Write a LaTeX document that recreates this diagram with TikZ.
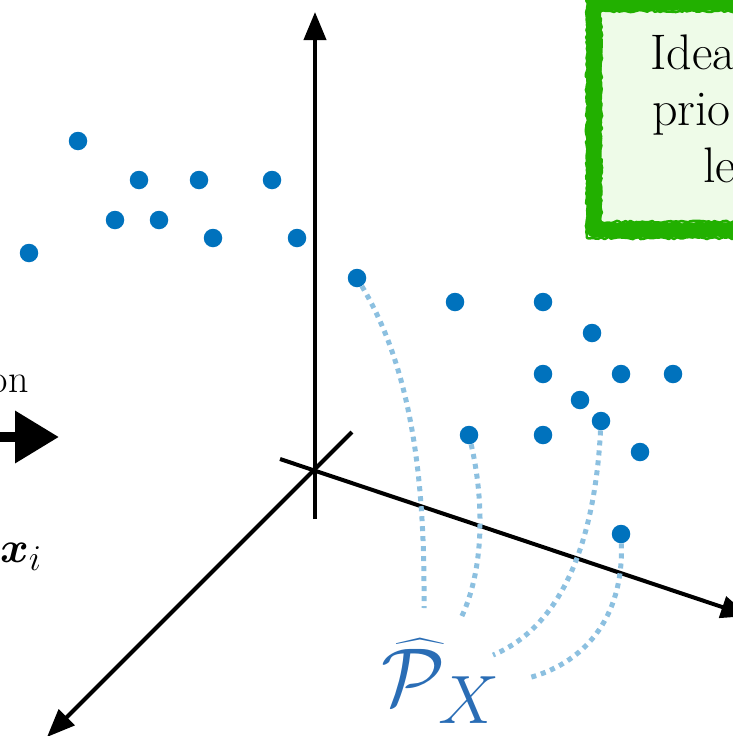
\documentclass[tikz,border=0pt]{standalone}
\usetikzlibrary{arrows.meta,decorations.pathmorphing}
\usepackage{graphicx,bm}
\definecolor{dotblue}{HTML}{0072BD}
\definecolor{lightdot}{HTML}{8CC0E0}
\definecolor{pblue}{HTML}{2A6DB5}
\definecolor{boxgreen}{HTML}{22B000}
\definecolor{boxfill}{HTML}{EEFBE8}
\begin{document}
\begin{tikzpicture}[x=1pt,y=-1pt,
  dot/.style={circle,fill=dotblue,inner sep=0pt,minimum size=18.5pt},
  axis/.style={line width=4pt,-{Triangle[length=28pt,width=22pt]}},
  link/.style={lightdot,line width=5pt,dash pattern=on 5pt off 5pt},
  boxtext/.style={font=\fontsize{50}{56}\selectfont,inner sep=0pt,anchor=base west},
  sidetext/.style={font=\fontsize{40}{48}\selectfont,inner sep=0pt},
  rough/.style={boxgreen,line join=round,decorate,decoration={random steps,segment length=3pt,amplitude=1.2pt}}]
\useasboundingbox (0,0) rectangle (733,736);
% green box
\fill[boxfill] (594,-20) rectangle (760,230);
\draw[rough,line width=15pt] (760,3) -- (594,3) -- (594,230) -- (760,230);
\draw[rough,line width=2.5pt] (760,11) -- (601,11) -- (601,222) -- (760,222);
\draw[rough,line width=2.5pt] (587,-5) -- (587,238) -- (760,238);
\node[boxtext] (t1) at (650,69) {Idea};
\node[boxtext] (t2) at (652,125) {prio};
\node[boxtext] (t3) at (703,182) {le};
% left text and arrow
\node[sidetext,anchor=base east] (on) at (29,392) {on};
\coordinate (la) at (-10,437);
\coordinate (lb) at (59,437);
\draw[line width=10pt,-{Triangle[length=44pt,width=50pt]}] (la) -- (lb);
\node[inner sep=0pt,anchor=base west] (xi) at (0,562) {\scalebox{1.75}{\Huge$\bm{x}_i$}};
% axes
\coordinate (vb) at (315,519);
\coordinate (vt) at (315,12);
\coordinate (hs) at (280,459);
\coordinate (he) at (749,616);
\coordinate (ds) at (352,432);
\coordinate (de) at (47,737);
\draw[axis] (vb) -- (vt);
\draw[axis] (hs) -- (he);
\draw[axis] (ds) -- (de);
% dots, left group
\node[dot] (a1) at (78,141) {};
\node[dot] (a2) at (139,180) {};
\node[dot] (a3) at (199,180) {};
\node[dot] (a4) at (272,180) {};
\node[dot] (a5) at (115,220) {};
\node[dot] (a6) at (159,220) {};
\node[dot] (a7) at (213,238) {};
\node[dot] (a8) at (297,238) {};
\node[dot] (a9) at (29,253) {};
% dots, right group
\node[dot] (b1) at (357,278) {};
\node[dot] (b2) at (455,302) {};
\node[dot] (b3) at (543,302) {};
\node[dot] (b4) at (592,333) {};
\node[dot] (b5) at (543,374) {};
\node[dot] (b6) at (621,374) {};
\node[dot] (b7) at (673,374) {};
\node[dot] (b8) at (580,400) {};
\node[dot] (b9) at (601,421) {};
\node[dot] (b10) at (469,435) {};
\node[dot] (b11) at (543,435) {};
\node[dot] (b12) at (640,452) {};
\node[dot] (b13) at (621,534) {};
% label
\node[text=pblue,inner sep=0pt,anchor=base west] (P) at (381,705) {\scalebox{3.3}{\Huge$\widehat{\mathcal{P}}_X$}};
\coordinate (e1) at (424,608);
\coordinate (e2) at (460,620);
\coordinate (e3) at (493,655);
\coordinate (e4) at (528,678);
\draw[link] (b1) .. controls (412,370) and (425,480) .. (e1);
\draw[link] (b10) .. controls (484,500) and (485,570) .. (e2);
\draw[link] (b9) .. controls (596,520) and (572,622) .. (e3);
\draw[link] (b13) .. controls (624,620) and (582,664) .. (e4);
\end{tikzpicture}
\end{document}
